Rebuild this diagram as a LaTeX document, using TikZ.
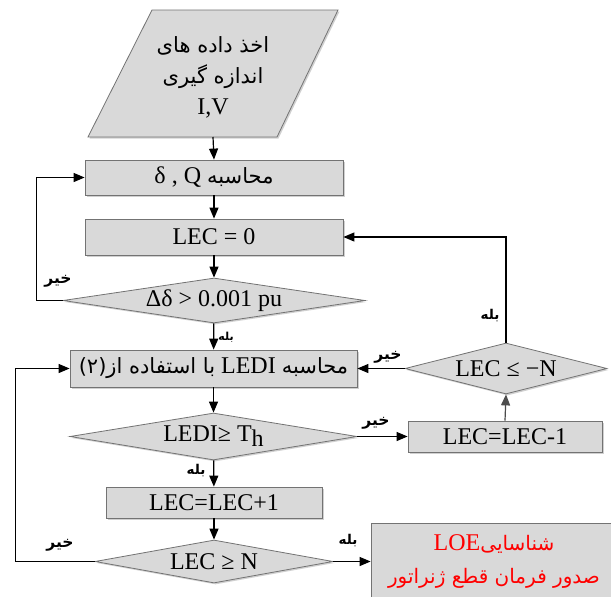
\documentclass[tikz,border=0pt]{standalone}
\usepackage{fontspec}
\setmainfont{Liberation Serif}
\newfontfamily\fa[Script=Arabic]{DejaVu Sans}
\TeXXeTstate=1
\usetikzlibrary{shapes.geometric,arrows.meta,shadows}
\newcommand\fat{\fa\fontsize{21}{24}\selectfont}
\newcommand\fal{\fa\fontsize{20}{24}\selectfont}
\tikzset{
  shd/.style={drop shadow={opacity=0.3, shadow xshift=1.5pt, shadow yshift=-1.5pt, fill=black!60}},
  box/.style={draw=black!55, fill=black!15, line width=0.8pt, rectangle, inner sep=0pt, shd,
    font=\fontsize{24}{26}\selectfont},
  dia/.style={draw=black!55, fill=black!15, line width=0.8pt, diamond, inner sep=0pt, shd},
  dtext/.style={font=\fontsize{24}{26}\selectfont, inner sep=0pt},
  arr/.style={-{Triangle[length=11pt,width=9pt]}, line width=1.2pt},
  lab/.style={font=\fa\bfseries\fontsize{15.5}{17}\selectfont, inner sep=0pt},
  labs/.style={font=\fa\bfseries\fontsize{13.5}{15}\selectfont, inner sep=0pt},
}
\begin{document}
\begin{tikzpicture}[x=1pt,y=-1pt]
\clip (0,0) rectangle (611,597);
\fill[white] (0,0) rectangle (611,597);
% input parallelogram
\filldraw[draw=black!55, fill=black!15, line width=0.8pt, shd]
  (152,10) -- (338,10) -- (277,137) -- (88,137) -- cycle;
\coordinate (inb) at (213,137);
\node[align=center, inner sep=0pt, font=\fontsize{24}{31}\selectfont] (intext) at (213,77)
  {{\fat\beginR اخذ داده های\endR}\\{\fat\beginR اندازه گیری\endR}\\I,V};
% boxes
\node[box, minimum width=258pt, minimum height=35pt] (b1) at (214,177.5)
  {\beginR{\fat محاسبه} \beginL δ , Q\endL\endR};
\node[box, minimum width=258pt, minimum height=36pt] (b2) at (214,237) {LEC = 0};
\node[dia, minimum width=302pt, minimum height=45pt] (d1) at (214,300.5) {};
\node[dtext] at (d1) {Δδ > 0.001 pu};
\node[box, minimum width=287pt, minimum height=37pt] (b3) at (213.5,368.5)
  {\beginR{\fat محاسبه} \beginL LEDI\endL{} {\fat با استفاده از(۲)}\endR};
\node[dia, minimum width=287pt, minimum height=47pt] (d2) at (213.5,436.5) {};
\node[dtext] at (d2) {LEDI≥ T\raisebox{-0.45ex}{h}};
\node[box, minimum width=216pt, minimum height=31pt] (b4) at (214,502.5) {LEC=LEC+1};
\node[dia, minimum width=238pt, minimum height=43pt] (d3) at (214,561.5) {};
\node[dtext] at (d3) {LEC ≥ N};
\node[dia, minimum width=202pt, minimum height=51pt] (d4) at (506,368.5) {};
\node[dtext] at (d4) {LEC ≤ −N};
\node[box, minimum width=194pt, minimum height=31pt] (b5) at (505,436.5) {LEC=LEC-1};
\node[box, minimum width=250pt, minimum height=88pt] (b6) at (496,567) {};
\node[align=center, text=red, inner sep=0pt, font=\fontsize{24}{33}\selectfont] (b6t) at (494,561)
  {\beginR{\fal شناسایی}\beginL LOE\endL\endR\\{\fal\beginR صدور فرمان قطع ژنراتور\endR}};
% connectors
\draw[arr] (inb) -- (b1.north);
\draw[arr] (b1) -- (b2);
\draw[arr] (b2) -- (d1);
\draw[arr] (d1.west) -- ++(-26,0) |- (b1.west);
\draw[arr] (d1) -- (b3);
\draw[arr] (b3) -- (d2);
\draw[arr] (d2) -- (b4);
\draw[arr] (b4) -- (d3);
\draw[arr] (d3.east) -- (b6.west |- d3.east);
\draw[arr] (d3.west) -- ++(-79,0) |- (b3.west);
\draw[arr] (d2.east) -- (b5.west);
\draw[arr, draw=black!70, fill=black!70] (b5.north) -- (d4.south);
\draw[arr] (d4.west) -- (b3.east);
\draw[arr] (d4.north) |- (b2.east);
% labels
\node[lab] (l1) at (58,281) {\beginR خیر\endR};
\node[labs, font=\fa\bfseries\fontsize{11}{12}\selectfont] (l2) at (226,337) {\beginR بله\endR};
\node[labs] (l3) at (490,316) {\beginR بله\endR};
\node[lab] (l4) at (388,357) {\beginR خیر\endR};
\node[lab] (l5) at (376,423) {\beginR خیر\endR};
\node[labs] (l6) at (196,471) {\beginR بله\endR};
\node[lab] (l7) at (60,545) {\beginR خیر\endR};
\node[labs] (l8) at (348,541) {\beginR بله\endR};
\end{tikzpicture}
\end{document}
